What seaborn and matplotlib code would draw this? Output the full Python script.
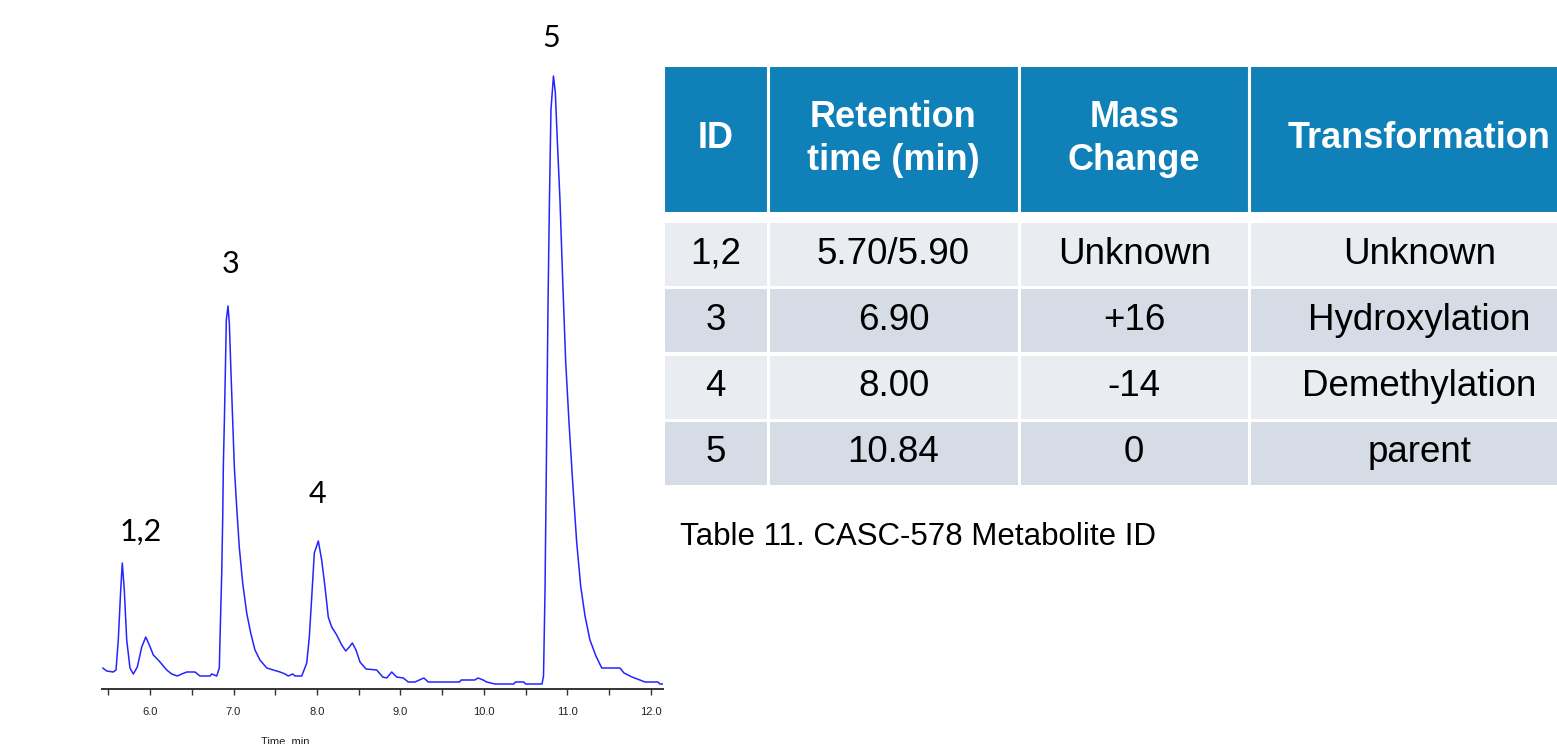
import numpy as np
import pandas as pd
import seaborn as sns
import matplotlib.pyplot as plt

# chromatogram trace (time in min, response in arbitrary units)
time_min = [5.434, 5.481, 5.560, 5.593, 5.620, 5.649, 5.668, 5.692, 5.721, 5.760,
            5.800, 5.848, 5.901, 5.949, 5.992, 6.040, 6.120, 6.200, 6.260, 6.327,
            6.380, 6.440, 6.539, 6.599, 6.719, 6.739, 6.799, 6.830, 6.838, 6.859,
            6.871, 6.878, 6.890, 6.902, 6.914, 6.934, 6.950, 6.970, 6.990, 7.010,
            7.038, 7.069, 7.110, 7.158, 7.206, 7.257, 7.317, 7.398, 7.477, 7.557,
            7.617, 7.656, 7.709, 7.737, 7.817, 7.877, 7.908, 7.937, 7.968, 8.016,
            8.056, 8.096, 8.135, 8.176, 8.236, 8.296, 8.344, 8.387, 8.423, 8.467,
            8.515, 8.587, 8.715, 8.787, 8.835, 8.895, 8.954, 9.034, 9.093, 9.174,
            9.225, 9.280, 9.333, 9.707, 9.727, 9.889, 9.929, 9.990, 10.031, 10.132,
            10.356, 10.376, 10.478, 10.498, 10.695, 10.713, 10.731, 10.749, 10.766, 10.784,
            10.802, 10.832, 10.854, 10.878, 10.910, 10.943, 10.978, 11.018, 11.062, 11.110,
            11.158, 11.210, 11.269, 11.341, 11.410, 11.629, 11.677, 11.772, 11.868, 11.928,
            12.084, 12.108, 12.144]
response = [21, 18, 17, 19, 49, 99, 126, 99, 49, 21,
            15, 22, 42, 52, 44, 34, 27, 19, 15, 13,
            15, 17, 17, 13, 13, 15, 13, 21, 49, 116,
            172, 222, 266, 316, 369, 383, 366, 316, 269, 222,
            182, 142, 106, 76, 56, 39, 29, 21, 19, 17,
            15, 13, 15, 13, 13, 26, 52, 92, 136, 148,
            129, 102, 72, 62, 54, 44, 38, 42, 46, 39,
            27, 20, 19, 12, 11, 17, 12, 11, 7, 7,
            9, 11, 7, 7, 9, 9, 11, 9, 7, 5,
            5, 7, 7, 5, 5, 13, 99, 239, 379, 489,
            579, 613, 597, 549, 489, 408, 328, 267, 207, 147,
            103, 73, 49, 33, 21, 21, 16, 12, 9, 7,
            7, 5, 5]

peak_names = ['1,2', '3', '4', '5']
peak_label_time = [5.89, 6.97, 8.01, 10.80]
peak_label_resp = [157, 425, 195, 651]

# metabolite table
table_header = ['ID', 'Retention\ntime (min)', 'Mass\nChange', 'Transformation']
met_id = ['1,2', '3', '4', '5']
ret_time = ['5.70/5.90', '6.90', '8.00', '10.84']
mass_change = ['Unknown', '+16', '-14', '0']
transformation = ['Unknown', 'Hydroxylation', 'Demethylation', 'parent']
caption = 'Table 11. CASC-578 Metabolite ID'

df = pd.DataFrame({'time': time_min, 'response': response})

sns.set_theme(style="ticks")
plt.rcParams['font.family'] = ['Liberation Sans', 'DejaVu Sans']
small_font = ['Liberation Sans Narrow', 'DejaVu Sans Condensed', 'Liberation Sans']

W, H = 1557, 744
fig = plt.figure(figsize=(W / 100, H / 100), dpi=100)

# chromatogram
ax = fig.add_axes([102 / W, 1 - 689 / H, (663 - 102) / W, 629 / H])
sns.lineplot(data=df, x='time', y='response', ax=ax, color='#2424ff',
             lw=1.1, estimator=None, sort=False)
ax.set_xlim(5.425, 12.144)
ax.set_ylim(0, 629)
sns.despine(ax=ax, left=True)
ax.set_yticks([])
ax.set_xlabel('')
ax.set_ylabel('')
major = np.arange(6, 12.01, 1.0)
ax.set_xticks(major)
ax.set_xticklabels([f'{v:.1f}' for v in major], family=small_font)
ax.set_xticks(np.arange(5.5, 12.01, 1.0), minor=True)
ax.tick_params(axis='x', which='both', direction='out', length=4, width=1,
               color='#333333', pad=9, labelsize=8, labelcolor='#222222')
ax.spines['bottom'].set_color('#333333')
ax.spines['bottom'].set_linewidth(1.4)

for name, t, r in zip(peak_names, peak_label_time, peak_label_resp):
    ax.text(t, r, name, ha='center', va='center', fontsize=22,
            family=['Lato', 'DejaVu Sans'], color='black')

fig.text(285 / W, 1 - 736 / H, 'Time, min', ha='center', va='top', fontsize=8,
         family=small_font, color='#222222')

# table
tax = fig.add_axes([663 / W, 1 - 486 / H, (1589 - 663) / W, (486 - 65) / H])
tax.axis('off')
col_px = np.array([105, 251, 230.5, 339.5])
col_w = list(col_px / col_px.sum())

hdr = tax.table(cellText=[table_header], cellLoc='center', colWidths=col_w,
                bbox=[0, (486 - 213) / 421, 1, (213 - 65) / 421])
rows = [list(r) for r in zip(met_id, ret_time, mass_change, transformation)]
body = tax.table(cellText=rows, cellLoc='center', colWidths=col_w,
                 bbox=[0, 0, 1, (486 - 221) / 421])

for tb in (hdr, body):
    tb.auto_set_font_size(False)
    tb.set_fontsize(26)

for (r, c), cell in hdr.get_celld().items():
    cell.set_facecolor('#1080b8')
    cell.set_edgecolor('white')
    cell.set_linewidth(2.2)
    cell.get_text().set_color('white')
    cell.get_text().set_fontweight('bold')
    cell.get_text().set_fontsize(26)
    cell.get_text().set_linespacing(1.3)

row_colors = ['#e9ecf1', '#d5dce6']
for (r, c), cell in body.get_celld().items():
    cell.set_facecolor(row_colors[r % 2])
    cell.set_edgecolor('white')
    cell.set_linewidth(2.2)
    cell.get_text().set_color('black')
    cell.get_text().set_fontsize(26.5)

fig.text(680 / W, 1 - 537 / H, caption, ha='left', va='center', fontsize=22.5,
         color='black')

plt.savefig('out.png', dpi=100)
